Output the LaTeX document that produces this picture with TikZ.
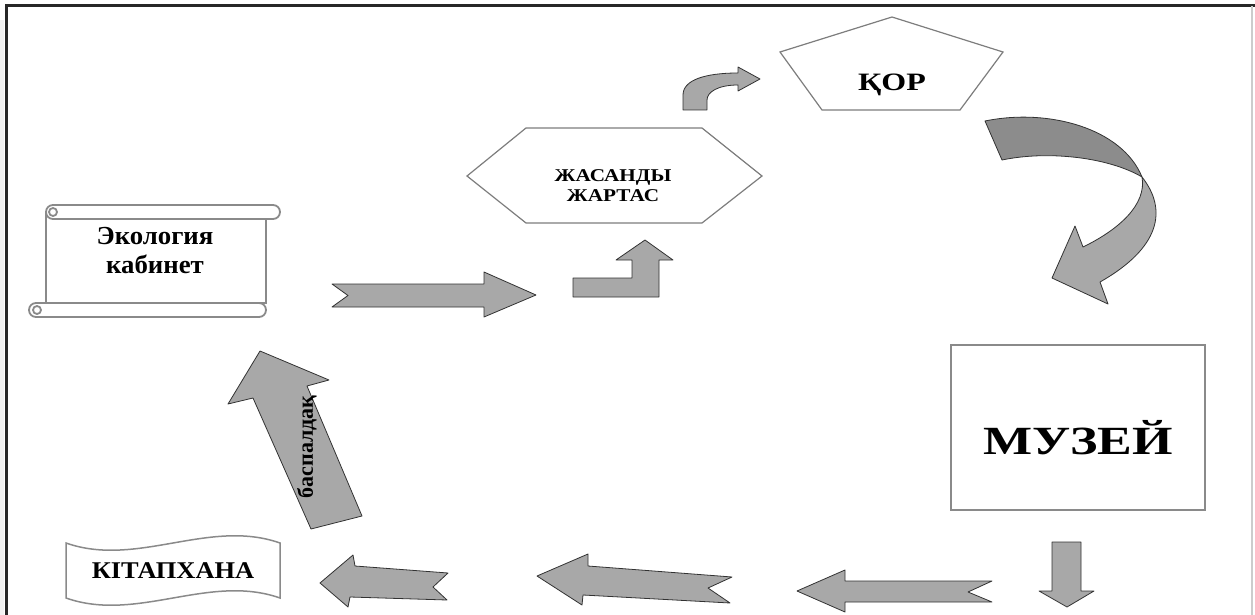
\documentclass[tikz,border=0pt]{standalone}
\usepackage{graphicx}
\usepackage{fontspec}
\setmainfont{Liberation Serif}
\definecolor{arrowfill}{RGB}{168,168,168}
\definecolor{ribbondark}{RGB}{140,140,140}
\definecolor{arrowline}{RGB}{50,50,50}
\definecolor{shapeline}{RGB}{125,125,125}
\definecolor{frameline}{RGB}{40,40,40}
\newcommand{\widen}[2]{\scalebox{#1}[1]{#2}}
\tikzset{
  blockarrow/.style={fill=arrowfill, draw=arrowline, line width=0.8pt, line join=round},
  darkribbon/.style={fill=ribbondark, draw=arrowline, line width=0.8pt, line join=round},
  outline/.style={draw=shapeline, line width=1.2pt, fill=white, line join=miter},
  thickoutline/.style={draw=shapeline!90, line width=1.8pt, fill=white},
  label/.style={font=\bfseries, inner sep=0pt, align=center, text=black},
}
\begin{document}
\begin{tikzpicture}[x=1pt, y=-1pt]
\useasboundingbox (0,0) rectangle (1255,615);
% frame
\fill[gray!10] (0,20) rectangle (4,615);
\draw[frameline, line width=2.2pt] (6.5,615) -- (6.5,5.5) -- (1255,5.5);
\draw[gray!40, line width=1.2pt] (1252,6) -- (1252,615);

% scroll: Экология кабинет
\draw[thickoutline] (46,212) -- (46,303) -- (266,303) -- (266,219) -- cycle;
\draw[thickoutline, rounded corners=7] (46,205) rectangle (280,219);
\draw[thickoutline] (53,212) circle (4);
\draw[thickoutline, rounded corners=7] (29,303) rectangle (266,317);
\draw[thickoutline] (37,310) circle (4);
\node[label, font=\bfseries\fontsize{26}{29}\selectfont] (eco) at (155,251) {\widen{1.03}{Экология}\\\widen{1.03}{кабинет}};

% hexagon
\draw[outline] (467,176) -- (526,128) -- (702,128) -- (762,176) -- (702,223) -- (526,223) -- cycle;
\node[label, font=\bfseries\fontsize{18}{20}\selectfont] (hex) at (613,186) {\widen{1.18}{ЖАСАНДЫ}\\\widen{1.18}{ЖАРТАС}};

% pentagon
\draw[outline] (892,17) -- (1003,52) -- (960,110) -- (822,110) -- (780,52) -- cycle;
\node[label, font=\bfseries\fontsize{25}{29}\selectfont] (kor) at (892,85) {\widen{1.28}{ҚОР}};

% museum box
\draw[thickoutline, line width=2pt] (951,345) rectangle (1205,510);
\node[label, font=\bfseries\fontsize{40}{44}\selectfont] (muz) at (1078,438) {\widen{1.3}{МУЗЕЙ}};

% wave banner
\draw[thickoutline, line width=1.5pt] (66,543) .. controls (137,568) and (209,518) .. (280,543)
  -- (280,598) .. controls (209,573) and (137,623) .. (66,598) -- cycle;
\node[label, font=\bfseries\fontsize{24}{28}\selectfont] (lib) at (173,571) {\widen{1.1}{КІТАПХАНА}};

% notched right arrow
\draw[blockarrow] (332,284) -- (484,284) -- (484,272) -- (536,295) -- (484,317) -- (484,307) -- (332,307) -- (348,295.5) -- cycle;
% bent-up arrow
\draw[blockarrow] (573,278) -- (632,278) -- (632,260) -- (616,260) -- (645,240) -- (673,260) -- (659,260) -- (659,297) -- (573,297) -- cycle;
% small curved arrow
\draw[blockarrow] (683,110) -- (683,95) .. controls (683,80) and (705,73) .. (738,73) -- (738,67) -- (760,79) -- (738,91) -- (738,85) .. controls (718,85) and (707,92) .. (707,100) -- (707,110) -- cycle;
% big curved ribbon arrow
\draw[darkribbon] (985,121) .. controls (1048,108) and (1122,128) .. (1142,177) .. controls (1110,158) and (1050,150) .. (1002,160) -- cycle;
\draw[blockarrow] (1142,177) .. controls (1168,210) and (1160,248) .. (1100,282) -- (1108,304) -- (1052,278) -- (1075,226) -- (1083,247) .. controls (1118,230) and (1147,205) .. (1142,177) -- cycle;
% down arrow
\draw[blockarrow] (1052,542) -- (1081,542) -- (1081,591) -- (1094,591) -- (1067,607) -- (1039,591) -- (1052,591) -- cycle;
% bottom arrows (pointing left)
\draw[blockarrow] (797,591) -- (845,570) -- (845,581) -- (992,581) -- (968,592) -- (992,602) -- (845,602) -- (845,612) -- cycle;
\draw[blockarrow] (537,576) -- (588,554) -- (588,566) -- (732,577) -- (708,588) -- (730,603) -- (583,595) -- (582,605) -- cycle;
\draw[blockarrow] (320,583) -- (353,555) -- (355,566) -- (448,573) -- (433,587) -- (447,600) -- (350,597) -- (348,607) -- cycle;
% upward tilted arrow with text
\draw[blockarrow] (260,351) -- (329,380) -- (307,386) -- (362,516) -- (311,529) -- (253,398) -- (228,404) -- cycle;
\node[label, font=\bfseries\fontsize{22}{24}\selectfont, rotate=90] (stair) at (307,447) {баспалдақ};
\end{tikzpicture}
\end{document}
